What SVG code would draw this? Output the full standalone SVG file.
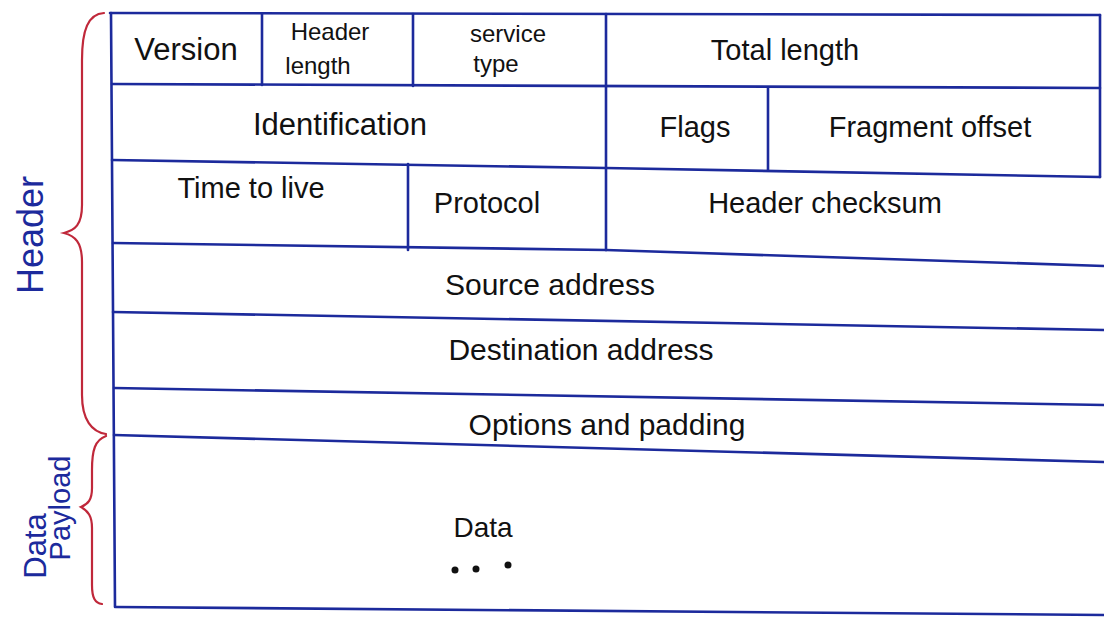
<svg xmlns="http://www.w3.org/2000/svg" width="1104" height="630" viewBox="0 0 1104 630">
<style>
.ln{stroke:#1c2a9c;stroke-width:2.6;fill:none;stroke-linecap:round}
.br{stroke:#c0283a;stroke-width:2.2;fill:none;stroke-linecap:round}
.t{font-family:"Liberation Sans",Arial,sans-serif;fill:#111;text-anchor:middle}
.b{font-family:"Liberation Sans",Arial,sans-serif;fill:#1c2a9c;text-anchor:middle}
</style>
<rect width="1104" height="630" fill="#ffffff"/>
<g id="connectors">
  <line class="ln" x1="110" y1="13" x2="1100" y2="15"/>
  <line class="ln" x1="111" y1="13" x2="115" y2="607"/>
  <line class="ln" x1="1100" y1="15" x2="1100" y2="177"/>
  <line class="ln" x1="112" y1="84" x2="1100" y2="88"/>
  <line class="ln" x1="112" y1="160" x2="606" y2="168"/>
  <line class="ln" x1="606" y1="168" x2="1100" y2="177"/>
  <line class="ln" x1="113" y1="243" x2="606" y2="250"/>
  <line class="ln" x1="606" y1="250" x2="1104" y2="266"/>
  <line class="ln" x1="113" y1="312" x2="1104" y2="330"/>
  <line class="ln" x1="114" y1="388" x2="1104" y2="405"/>
  <line class="ln" x1="114" y1="435" x2="1104" y2="462"/>
  <line class="ln" x1="116" y1="607" x2="1104" y2="615"/>
  <line class="ln" x1="262" y1="14" x2="262" y2="85"/>
  <line class="ln" x1="413" y1="14" x2="413" y2="86"/>
  <line class="ln" x1="606" y1="14" x2="606" y2="250"/>
  <line class="ln" x1="768" y1="88" x2="768" y2="170"/>
  <line class="ln" x1="408" y1="164" x2="408" y2="250"/>
  <path class="br" d="M104,13 C88,14 82,30 82,60 L82,205 C82,225 75,230 64,233 C75,236 82,242 82,262 L82,395 C82,420 92,432 106,434"/>
  <path class="br" d="M106,436 C95,440 92,450 92,470 L92,488 C92,500 88,504 81,507 C88,511 92,516 92,528 L92,585 C92,598 95,603 102,604"/>
</g>
<g id="labels-side">
  <text class="b" font-size="36" transform="translate(43,235) rotate(-90)">Header</text>
  <text class="b" font-size="31" transform="translate(46,546) rotate(-90)">Data</text>
  <text class="b" font-size="29" transform="translate(70,508) rotate(-90)">Payload</text>
</g>
<g id="node-version"><text class="t" x="186" y="60" font-size="31">Version</text></g>
<g id="node-header-length"><text class="t" x="330" y="40" font-size="24">Header</text><text class="t" x="318" y="74" font-size="24">length</text></g>
<g id="node-service-type"><text class="t" x="508" y="42" font-size="24">service</text><text class="t" x="496" y="72" font-size="24">type</text></g>
<g id="node-total-length"><text class="t" x="785" y="60" font-size="29">Total length</text></g>
<g id="node-identification"><text class="t" x="340" y="135" font-size="31">Identification</text></g>
<g id="node-flags"><text class="t" x="695" y="137" font-size="29">Flags</text></g>
<g id="node-fragment-offset"><text class="t" x="930" y="137" font-size="29">Fragment offset</text></g>
<g id="node-ttl"><text class="t" x="251" y="198" font-size="29">Time to live</text></g>
<g id="node-protocol"><text class="t" x="487" y="213" font-size="29">Protocol</text></g>
<g id="node-header-checksum"><text class="t" x="825" y="213" font-size="29">Header checksum</text></g>
<g id="node-source"><text class="t" x="550" y="295" font-size="30">Source address</text></g>
<g id="node-destination"><text class="t" x="581" y="360" font-size="30">Destination address</text></g>
<g id="node-options"><text class="t" x="607" y="435" font-size="30">Options and padding</text></g>
<g id="node-data">
  <text class="t" x="483" y="537" font-size="28">Data</text>
  <circle cx="455" cy="570" r="3.5" fill="#111"/>
  <circle cx="476" cy="569" r="3.5" fill="#111"/>
  <circle cx="508" cy="565" r="3.5" fill="#111"/>
</g>
</svg>
